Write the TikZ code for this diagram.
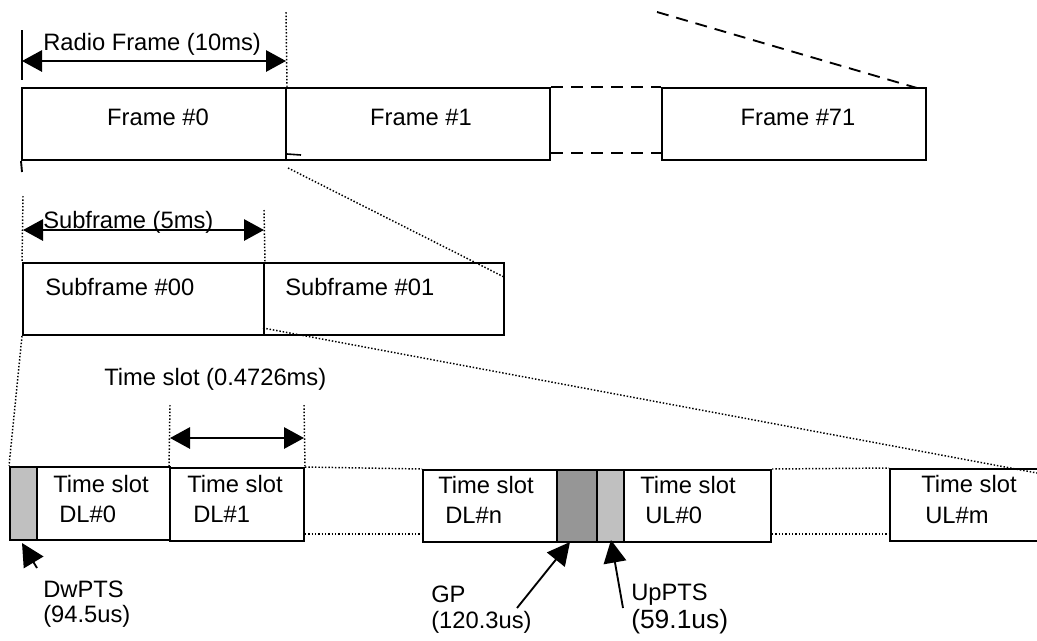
\documentclass[tikz,border=0pt]{standalone}
\usepackage{fontspec}
\setmainfont{Liberation Sans}
\usetikzlibrary{arrows.meta,fit,calc}
\definecolor{lightgr}{RGB}{192,192,192}
\definecolor{darkgr}{RGB}{150,150,150}
\begin{document}
\begin{tikzpicture}[x=0.75pt,y=-0.75pt,
  box/.style={draw, line width=1.5pt, inner sep=0pt},
  lbl/.style={inner sep=0pt, anchor=base west, font=\fontsize{17.8}{21}\selectfont},
  cl/.style={lbl, anchor=base},
  dim/.style={line width=1.4pt, {Triangle[length=15pt,width=16pt]}-{Triangle[length=15pt,width=16pt]}},
  ptr/.style={line width=1.4pt, -{Triangle[length=17pt,width=17pt]}},
  guide/.style={line width=1.1pt, dash pattern=on 1.1pt off 1.4pt},
  dsh/.style={line width=1.4pt, dash pattern=on 9pt off 6pt}]
\useasboundingbox (0,0) rectangle (1037,640);

% ---------- radio frames ----------
\node[box, fit={(22,88)(286,160)}] (f0) {};
\node[box, fit={(286,88)(550,160)}] (f1) {};
\node[box, fit={(662,88)(926,160)}] (f71) {};
\node[cl] at (158,125) {Frame \#0};
\node[cl] at (421,125) {Frame \#1};
\node[cl] at (798,125) {Frame \#71};

\draw[dsh] (f1.north east) -- (f71.north west);
\draw[dsh] ($(f1.south east)+(0,-8)$) -- ($(f71.south west)+(0,-8)$);
\coordinate (tr) at (657,12);
\coordinate (trE) at (917,88);
\draw[dsh] (tr) -- (trE);

\coordinate (rfTop) at (22,30);
\coordinate (rfBot) at (22,80);
\coordinate (rfLow) at (22,172);
\draw[line width=1.4pt] (rfTop) -- (rfBot);
\draw[line width=1.4pt] (f0.south west) -- (rfLow);
\coordinate (rfL) at (22,61);
\coordinate (rfR) at (286,61);
\draw[dim] (rfL) -- (rfR);
\node[lbl] at (43,50) {Radio Frame (10ms)};
\coordinate (g1) at (286,12);
\draw[guide] (f0.north east) -- (g1);
\coordinate (tk) at (301,155);
\draw[line width=1.2pt] ($(f0.south east)+(0,-7)$) -- (tk);

% ---------- subframes ----------
\node[box, fit={(23,263)(264,335)}] (s0) {};
\node[box, fit={(264,263)(504,335)}] (s1) {};
\node[lbl] at (45,295) {Subframe \#00};
\node[lbl] at (285,295) {Subframe \#01};
\coordinate (g2) at (23,196);
\coordinate (g3) at (264,210);
\draw[guide] (g2) -- (s0.north west);
\draw[guide] (g3) -- (s0.north east);
\coordinate (sfL) at (23,230);
\coordinate (sfR) at (264,230);
\draw[dim] (sfL) -- (sfR);
\node[lbl] at (43,228) {Subframe (5ms)};
\coordinate (z1a) at (288,168);
\coordinate (z1b) at (504,277);
\draw[guide] (z1a) -- (z1b);

% ---------- time slots ----------
\node[box, fill=lightgr, fit={(10,467)(37,540)}] (dw) {};
\node[box, fit={(37,467)(170,540)}] (dl0) {};
\node[box, fit={(170,468)(304,541)}] (dl1) {};
\node[box, fit={(423,470)(557,542)}] (dln) {};
\node[box, fill=darkgr, fit={(557,470)(597,542)}] (gp) {};
\node[box, fill=lightgr, fit={(597,470)(624,542)}] (up) {};
\node[box, fit={(624,470)(771,542)}] (ul0) {};
\node[box, fit={(890,469)(1045,541)}] (ulm) {};

\draw[guide] (s0.south west) -- (dw.north west);
\coordinate (z2) at (1037,473);
\draw[guide] ($(s1.south west)+(0,-8)$) -- (z2);

\draw[guide] (dl1.north east) -- (dln.north west);
\draw[guide] ($(dl1.south east)+(0,-8)$) -- ($(dln.south west)+(0,-9)$);
\draw[guide] (ul0.north east) -- (ulm.north west);
\draw[guide] ($(ul0.south east)+(0,-9)$) -- ($(ulm.south west)+(0,-8)$);

\node[lbl] at (53,492) {Time slot};
\node[lbl] at (59,522) {DL\#0};
\node[lbl] at (187,492) {Time slot};
\node[lbl] at (193,522) {DL\#1};
\node[lbl] at (438,493) {Time slot};
\node[lbl] at (445,523) {DL\#n};
\node[lbl] at (640,493) {Time slot};
\node[lbl] at (645,523) {UL\#0};
\node[lbl] at (921,492) {Time slot};
\node[lbl] at (925,523) {UL\#m};

\coordinate (t1) at (170,405);
\coordinate (t2) at (304,405);
\draw[guide] (t1) -- (dl1.north west);
\draw[guide] (t2) -- (dl1.north east);
\coordinate (tsL) at (170,438);
\coordinate (tsR) at (304,438);
\draw[dim] (tsL) -- (tsR);
\node[lbl] at (104,385) {Time slot (0.4726ms)};

% ---------- pointers ----------
\node[lbl] (dwl) at (43,597) {DwPTS};
\node[lbl] at (43,622) {(94.5us)};
\node[lbl] (gpl) at (431,602) {GP};
\node[lbl] at (431,628) {(120.3us)};
\node[lbl] (upl) at (631,600) {UpPTS};
\node[lbl, font=\fontsize{19.8}{22}\selectfont] at (631,628) {(59.1us)};

\coordinate (p1) at (37,568);
\coordinate (p1t) at (22,543);
\draw[ptr] (p1) -- (p1t);
\coordinate (p2) at (517,608);
\coordinate (p2t) at (570,542);
\draw[ptr] (p2) -- (p2t);
\coordinate (p3) at (623,608);
\coordinate (p3t) at (611,540);
\draw[ptr] (p3) -- (p3t);
\end{tikzpicture}
\end{document}
